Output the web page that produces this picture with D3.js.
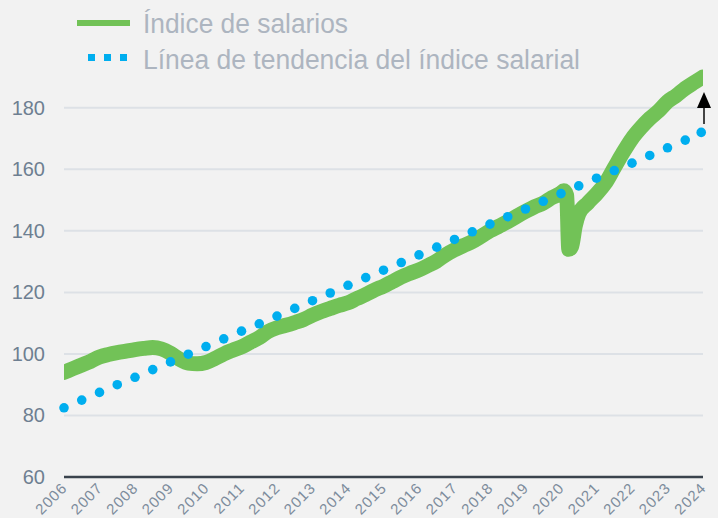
<!DOCTYPE html>
<html>
<head>
<meta charset="utf-8">
<script src="https://cdn.jsdelivr.net/npm/d3@7"></script>
<style>
  body { margin: 0; background: #f2f2f2; }
  svg { display: block; font-family: "Liberation Sans", Arial, sans-serif; }
  .grid line { stroke: #dde1e6; stroke-width: 2; }
  .y-label { fill: #6e7f91; font-size: 20px; }
  .x-label { fill: #7d8c9c; font-size: 15px; letter-spacing: 1px; }
  .legend-text { fill: #adb5c0; font-size: 27px; }
</style>
</head>
<body>
<div id="chart"></div>
<script>
// quarterly readings of the wage index (decimal year -> value)
let salaryYears = [2006, 2006.25, 2006.5, 2006.75, 2007, 2007.25, 2007.5, 2007.75,
    2008, 2008.25, 2008.5, 2008.75, 2009, 2009.25, 2009.5, 2009.75,
    2010, 2010.25, 2010.5, 2010.75, 2011, 2011.25, 2011.5, 2011.75,
    2012, 2012.25, 2012.5, 2012.75, 2013, 2013.25, 2013.5, 2013.75,
    2014, 2014.25, 2014.5, 2014.75, 2015, 2015.25, 2015.5, 2015.75,
    2016, 2016.25, 2016.5, 2016.75, 2017, 2017.25, 2017.5, 2017.75,
    2018, 2018.25, 2018.5, 2018.75, 2019, 2019.25, 2019.5, 2019.75,
    2020, 2020.08, 2020.16, 2020.22, 2020.3, 2020.4, 2020.5, 2020.75,
    2021, 2021.25, 2021.5, 2021.75, 2022, 2022.25, 2022.5, 2022.75,
    2023, 2023.25, 2023.5, 2023.75, 2024];
let salaryIndex = [94, 95.2, 96.4, 97.6, 99, 99.8, 100.4, 100.9,
    101.4, 101.8, 102.1, 101.6, 100.2, 98.3, 97, 96.8,
    97.2, 98.5, 100, 101.2, 102.3, 103.8, 105.3, 107.3,
    108.5, 109.3, 110.2, 111.2, 112.6, 113.8, 114.8, 115.8,
    116.6, 118, 119.3, 120.8, 122, 123.5, 125, 126.2,
    127.3, 128.7, 130.2, 132.2, 133.8, 135.2, 136.5, 138.2,
    140, 141.5, 143, 144.7, 146.3, 147.8, 149, 150.8,
    152.3, 153, 151.5, 134, 135, 141.5, 145.5, 149,
    152, 155.5, 160.5, 165.5, 170, 173.5, 176.5, 179,
    182, 184, 186.3, 188.2, 190];

// semi-annual trend line readings
let trendYears = [2006, 2006.5, 2007, 2007.5, 2008, 2008.5, 2009, 2009.5, 2010, 2010.5,
    2011, 2011.5, 2012, 2012.5, 2013, 2013.5, 2014, 2014.5, 2015, 2015.5,
    2016, 2016.5, 2017, 2017.5, 2018, 2018.5, 2019, 2019.5, 2020, 2020.5,
    2021, 2021.5, 2022, 2022.5, 2023, 2023.5, 2023.95];
let trendIndex = [82.5, 85, 87.5, 90, 92.4, 94.9, 97.4, 99.9, 102.4, 104.9,
    107.4, 109.8, 112.3, 114.8, 117.3, 119.8, 122.3, 124.8, 127.2, 129.7,
    132.2, 134.7, 137.2, 139.7, 142.2, 144.6, 147.1, 149.6, 152.1, 154.6,
    157.1, 159.6, 162, 164.5, 167, 169.5, 172];

let yearTicks = d3.range(2006, 2025);
let valueTicks = [60, 80, 100, 120, 140, 160, 180];
let legendLabels = ['Índice de salarios', 'Línea de tendencia del índice salarial'];

const width = 718, height = 518;
const margin = { top: 77, right: 15, bottom: 41, left: 64 };

let svg = d3.select('#chart').append('svg')
    .attr('width', width)
    .attr('height', height);

let x = d3.scaleLinear().domain([2006, 2024]).range([margin.left, width - margin.right]);
let y = d3.scaleLinear().domain([60, 190]).range([height - margin.bottom, margin.top]);

// gridlines
svg.append('g')
    .classed('grid', true)
    .selectAll('line')
    .data(valueTicks.filter(d => d > 60))
    .enter().append('line')
    .attr('x1', x.range()[0])
    .attr('x2', x.range()[1])
    .attr('y1', d => y(d))
    .attr('y2', d => y(d));

// y labels
svg.append('g')
    .selectAll('text')
    .data(valueTicks)
    .enter().append('text')
    .classed('y-label', true)
    .attr('x', 45)
    .attr('y', d => y(d) + 7)
    .attr('text-anchor', 'end')
    .text(d => d);

// x axis baseline
svg.append('line')
    .attr('x1', x.range()[0])
    .attr('x2', x.range()[1])
    .attr('y1', y(60))
    .attr('y2', y(60))
    .style('stroke', '#3a434d')
    .style('stroke-width', 2.5);

// x labels
svg.append('g')
    .selectAll('text')
    .data(yearTicks)
    .enter().append('text')
    .classed('x-label', true)
    .attr('text-anchor', 'end')
    .attr('transform', d => `translate(${x(d) + 4},${y(60) + 12}) rotate(-45)`)
    .text(d => d);

svg.append('defs').append('clipPath')
    .attr('id', 'plot-clip')
    .append('rect')
    .attr('x', x.range()[0])
    .attr('y', 0)
    .attr('width', x.range()[1] - x.range()[0])
    .attr('height', height);

// wage index line
let salaryLine = d3.line()
    .x((d, i) => x(salaryYears[i]))
    .y(d => y(d))
    .curve(d3.curveMonotoneX);

svg.append('path')
    .datum(salaryIndex)
    .attr('clip-path', 'url(#plot-clip)')
    .attr('d', salaryLine)
    .style('fill', 'none')
    .style('stroke', '#72c257')
    .style('stroke-width', 15)
    .style('stroke-linejoin', 'round')
    .style('stroke-linecap', 'round');

// trend dots
svg.append('g')
    .selectAll('circle')
    .data(trendIndex)
    .enter().append('circle')
    .attr('cx', (d, i) => x(trendYears[i]))
    .attr('cy', d => y(d))
    .attr('r', 4.8)
    .style('fill', '#00aeef');

// arrow above the last trend point
svg.append('line')
    .attr('x1', 704).attr('x2', 704)
    .attr('y1', 124).attr('y2', 106)
    .style('stroke', '#444')
    .style('stroke-width', 2);
svg.append('path')
    .attr('d', 'M704,92 L697,108 L711,108 Z')
    .style('fill', '#000');

// legend
let legend = svg.append('g');
legend.append('line')
    .attr('x1', 77).attr('x2', 130)
    .attr('y1', 23).attr('y2', 23)
    .style('stroke', '#72c257')
    .style('stroke-width', 6);
legend.selectAll('rect')
    .data([0, 1, 2])
    .enter().append('rect')
    .attr('x', d => 88 + d * 16)
    .attr('y', 54)
    .attr('width', 7)
    .attr('height', 7)
    .style('fill', '#00aeef');
legend.selectAll('text')
    .data(legendLabels)
    .enter().append('text')
    .classed('legend-text', true)
    .attr('x', 143)
    .attr('y', (d, i) => 33 + i * 36)
    .attr('textLength', (d, i) => i === 0 ? 205 : 437)
    .attr('lengthAdjust', 'spacingAndGlyphs')
    .text(d => d);
</script>
</body>
</html>
